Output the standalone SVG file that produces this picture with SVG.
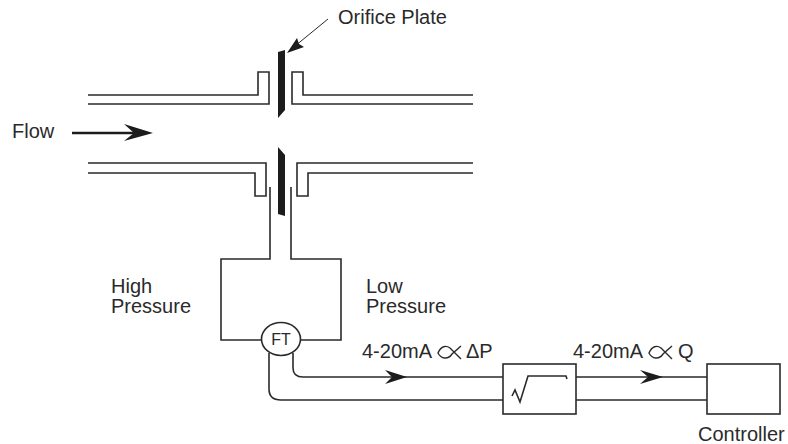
<svg xmlns="http://www.w3.org/2000/svg" width="788" height="444" viewBox="0 0 788 444">
<style>
.l{fill:none;stroke:#2a2a2a;stroke-width:1.6}
.t{font-family:"Liberation Sans",Arial,sans-serif;font-size:20px;fill:#2a2a2a}
.k{fill:#1c1c1c}
.p{fill:none;stroke:#2a2a2a;stroke-width:1.4}
</style>
<rect width="788" height="444" fill="#fff"/>
<g id="connectors">
<path class="l" d="M88 95H258V72H269V104H88"/>
<path class="l" d="M473 95H303V72H292V104H473"/>
<path class="l" d="M88 163H266V196H255V173H88"/>
<path class="l" d="M473 163H297V196H308V173H473"/>
<path class="l" d="M270 187V259H221V340H262"/>
<path class="l" d="M291 187V259H341V340H300"/>
<path class="l" d="M293 353V368Q293 377 303 377H503"/>
<path class="l" d="M269 353V389Q269 400 281 400H503"/>
<path class="l" d="M576 377H707M576 400H707"/>
<path d="M72 133H135" fill="none" stroke="#1c1c1c" stroke-width="2.6"/>
<path class="k" d="M153 133L124 124L134 133L124 141Z"/>
<path class="k" d="M407 377L385 370L392 377L385 384Z"/>
<path class="k" d="M663 377L640 370L648 377L640 384Z"/>
<path d="M328 19L295 46" fill="none" stroke="#2a2a2a" stroke-width="1"/>
<path class="k" d="M287 53L297 38L299 44L304 47Z"/>
</g>
<g id="orifice-plate">
<path class="k" d="M278 52L285 50V110L278 118Z"/>
<path class="k" d="M278 147L285 155V216L278 214Z"/>
<text class="t" x="338" y="24">Orifice Plate</text>
</g>
<g id="flow-label"><text class="t" x="12" y="138">Flow</text></g>
<g id="high-pressure"><text class="t" x="111" y="293">High</text><text class="t" x="111" y="313">Pressure</text></g>
<g id="low-pressure"><text class="t" x="366" y="293">Low</text><text class="t" x="366" y="313">Pressure</text></g>
<g id="ft">
<ellipse cx="281" cy="339" rx="19.5" ry="16.5" fill="#fff" stroke="#2a2a2a" stroke-width="1.6"/>
<text class="t" x="281" y="345" text-anchor="middle" style="font-size:16px">FT</text>
</g>
<g id="dp-label">
<text class="t" x="362" y="358">4-20mA</text>
<path class="p" d="M461 346L452 354C448 360 441 359 438 353C441 346 446 345 450 348L461 359"/>
<text class="t" x="466" y="358">ΔP</text>
</g>
<g id="sqrt-box">
<rect x="503" y="364" width="73" height="50" fill="#fff" stroke="#2a2a2a" stroke-width="1.6"/>
<path class="l" d="M512 396L515 390L520 402L528 376H566L567 379"/>
</g>
<g id="q-label">
<text class="t" x="573" y="358">4-20mA</text>
<path class="p" d="M672 346L663 354C659 360 652 359 649 353C652 346 657 345 661 348L672 359"/>
<text class="t" x="678" y="358">Q</text>
</g>
<g id="controller">
<rect x="707" y="364" width="73" height="50" fill="#fff" stroke="#2a2a2a" stroke-width="1.6"/>
<text class="t" x="698" y="441">Controller</text>
</g>
</svg>
